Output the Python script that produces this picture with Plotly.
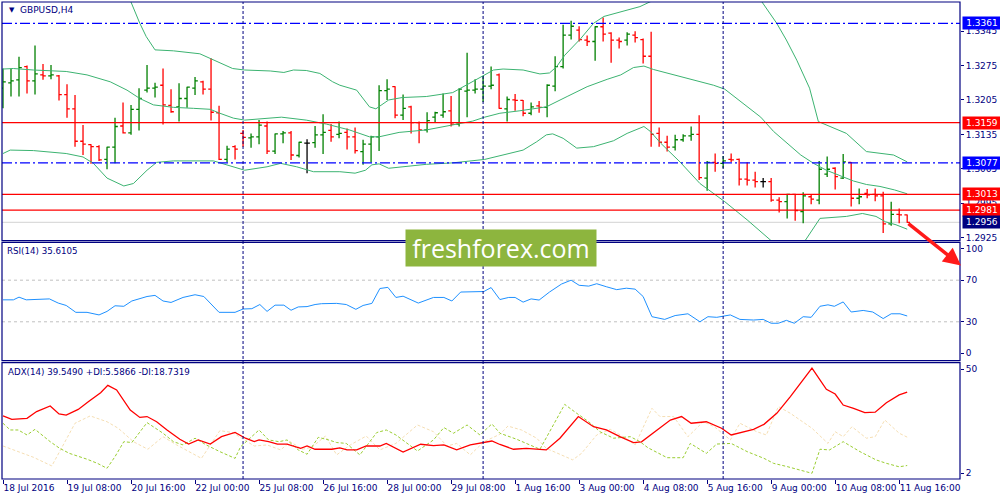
import plotly.graph_objects as go

# ---------------- data ----------------
symbol_title = "GBPUSD,H4"
time_tick_bars = [0, 8, 16, 24, 32, 40, 48, 56, 64, 72, 80, 88, 96, 104, 112]
time_tick_labels = ["18 Jul 2016", "19 Jul 08:00", "20 Jul 16:00", "22 Jul 00:00",
                    "25 Jul 08:00", "26 Jul 16:00", "28 Jul 00:00", "29 Jul 08:00",
                    "1 Aug 16:00", "3 Aug 00:00", "4 Aug 08:00", "5 Aug 16:00",
                    "9 Aug 00:00", "10 Aug 08:00", "11 Aug 16:00"]
week_separators = [30, 60, 90]

open_ = [1.3229, 1.3240, 1.3246, 1.3273, 1.3244, 1.3256, 1.3254, 1.3254, 1.3216, 1.3187,
         1.3121, 1.3114, 1.3110, 1.3084, 1.3109, 1.3152, 1.3138, 1.3186, 1.3225, 1.3229,
         1.3235, 1.3194, 1.3191, 1.3208, 1.3229, 1.3242, 1.3227, 1.3179, 1.3084, 1.3110,
         1.3137, 1.3128, 1.3130, 1.3152, 1.3101, 1.3136, 1.3138, 1.3092, 1.3117, 1.3118,
         1.3134, 1.3143, 1.3135, 1.3139, 1.3130, 1.3100, 1.3115, 1.3130, 1.3224, 1.3232,
         1.3174, 1.3191, 1.3159, 1.3144, 1.3170, 1.3174, 1.3183, 1.3156, 1.3223, 1.3225,
         1.3227, 1.3233, 1.3256, 1.3187, 1.3205, 1.3204, 1.3178, 1.3193, 1.3190, 1.3233,
         1.3273, 1.3337, 1.3347, 1.3327, 1.3324, 1.3354, 1.3341, 1.3327, 1.3327, 1.3337,
         1.3328, 1.3294, 1.3137, 1.3119, 1.3109, 1.3124, 1.3132, 1.3135, 1.3046, 1.3078,
         1.3076, 1.3084, 1.3084, 1.3044, 1.3042, 1.3039, 1.3039, 1.3001, 1.2998, 1.3013,
         1.2978, 1.3008, 1.3001, 1.3054, 1.3066, 1.3046, 1.3078, 1.3005, 1.3015, 1.3013,
         1.3010, 1.2953, 1.2972, 1.2971]
high_ = [1.3269, 1.3269, 1.3293, 1.3275, 1.3316, 1.3278, 1.3276, 1.3256, 1.3237, 1.3215,
         1.3154, 1.3115, 1.3113, 1.3110, 1.3169, 1.3200, 1.3195, 1.3229, 1.3276, 1.3240,
         1.3269, 1.3227, 1.3239, 1.3232, 1.3252, 1.3244, 1.3290, 1.3193, 1.3112, 1.3113,
         1.3144, 1.3137, 1.3164, 1.3161, 1.3137, 1.3142, 1.3142, 1.3120, 1.3125, 1.3152,
         1.3176, 1.3156, 1.3161, 1.3147, 1.3149, 1.3124, 1.3132, 1.3235, 1.3247, 1.3233,
         1.3216, 1.3193, 1.3161, 1.3180, 1.3181, 1.3218, 1.3213, 1.3229, 1.3301, 1.3247,
         1.3254, 1.3273, 1.3259, 1.3212, 1.3217, 1.3205, 1.3200, 1.3203, 1.3237, 1.3294,
         1.3358, 1.3366, 1.3355, 1.3336, 1.3355, 1.3373, 1.3343, 1.3332, 1.3343, 1.3345,
         1.3330, 1.3344, 1.3149, 1.3132, 1.3134, 1.3135, 1.3151, 1.3174, 1.3081, 1.3096,
         1.3091, 1.3096, 1.3086, 1.3078, 1.3059, 1.3046, 1.3046, 1.3007, 1.3014, 1.3014,
         1.3017, 1.3012, 1.3081, 1.3090, 1.3068, 1.3095, 1.3079, 1.3025, 1.3024, 1.3025,
         1.3018, 1.2998, 1.2984, 1.2972]
low_ = [1.3188, 1.3212, 1.3212, 1.3218, 1.3216, 1.3246, 1.3247, 1.3204, 1.3169, 1.3110,
        1.3093, 1.3075, 1.3081, 1.3064, 1.3076, 1.3137, 1.3134, 1.3143, 1.3220, 1.3210,
        1.3155, 1.3179, 1.3161, 1.3189, 1.3215, 1.3216, 1.3163, 1.3083, 1.3078, 1.3084,
        1.3110, 1.3108, 1.3115, 1.3095, 1.3095, 1.3117, 1.3083, 1.3088, 1.3056, 1.3108,
        1.3095, 1.3120, 1.3127, 1.3104, 1.3096, 1.3073, 1.3078, 1.3101, 1.3205, 1.3168,
        1.3164, 1.3137, 1.3117, 1.3139, 1.3158, 1.3169, 1.3151, 1.3151, 1.3170, 1.3218,
        1.3201, 1.3227, 1.3187, 1.3161, 1.3183, 1.3172, 1.3174, 1.3179, 1.3170, 1.3223,
        1.3269, 1.3328, 1.3324, 1.3315, 1.3285, 1.3324, 1.3281, 1.3310, 1.3316, 1.3322,
        1.3279, 1.3110, 1.3110, 1.3100, 1.3102, 1.3120, 1.3122, 1.3042, 1.3020, 1.3059,
        1.3066, 1.3079, 1.3031, 1.3031, 1.3027, 1.3027, 1.2998, 1.2976, 1.2964, 1.2959,
        1.2954, 1.2993, 1.2993, 1.3048, 1.3023, 1.3044, 1.2988, 1.2993, 1.3005, 1.2999,
        1.2934, 1.2949, 1.2954, 1.2955]
close_ = [1.3242, 1.3244, 1.3271, 1.3244, 1.3258, 1.3254, 1.3256, 1.3216, 1.3187, 1.3121,
          1.3115, 1.3110, 1.3083, 1.3109, 1.3151, 1.3138, 1.3186, 1.3208, 1.3229, 1.3231,
          1.3195, 1.3181, 1.3208, 1.3231, 1.3244, 1.3227, 1.3180, 1.3084, 1.3105, 1.3105,
          1.3129, 1.3130, 1.3154, 1.3101, 1.3136, 1.3138, 1.3093, 1.3119, 1.3117, 1.3134,
          1.3139, 1.3130, 1.3137, 1.3130, 1.3102, 1.3115, 1.3130, 1.3224, 1.3227, 1.3174,
          1.3188, 1.3159, 1.3144, 1.3163, 1.3179, 1.3181, 1.3156, 1.3227, 1.3225, 1.3227,
          1.3233, 1.3235, 1.3188, 1.3206, 1.3204, 1.3178, 1.3191, 1.3190, 1.3235, 1.3273,
          1.3337, 1.3355, 1.3328, 1.3324, 1.3354, 1.3339, 1.3327, 1.3324, 1.3339, 1.3332,
          1.3294, 1.3135, 1.3119, 1.3109, 1.3124, 1.3132, 1.3135, 1.3047, 1.3078, 1.3076,
          1.3081, 1.3083, 1.3044, 1.3042, 1.3039, 1.3039, 1.3001, 1.2998, 1.3013, 1.2980,
          1.3010, 1.3003, 1.3064, 1.3064, 1.3049, 1.3079, 1.3005, 1.3008, 1.3012, 1.3010,
          1.2953, 1.2972, 1.2971, 1.2956]

bb_upper_x = [0, 8, 13, 15.9, 17.1, 17.9, 19, 21.3, 24.6, 26.1, 28.7, 30.2, 33.4, 35.1, 36.3,
              37.9, 39.6, 41.2, 42.1, 44.2, 45.2, 45.8, 46.6, 48.2, 49.9, 52.9, 56.2, 59.6,
              61.3, 62.5, 65, 67.1, 68.3, 69.2, 70.2, 72.2, 73.8, 75.1, 77.2, 79.6, 80.9,
              84.4, 88.4, 91.5, 94.7, 96.7, 97.9, 99.2, 100.8, 101.9, 105.4, 107.9, 111.3, 113]
bb_upper_y = [1.3440, 1.3429, 1.3419, 1.3408, 1.3361, 1.3334, 1.3307, 1.3305, 1.3299, 1.3288,
              1.3269, 1.3266, 1.3264, 1.3261, 1.3266, 1.3265, 1.3259, 1.3242, 1.3235, 1.3225,
              1.3205, 1.3191, 1.3187, 1.3205, 1.3210, 1.3212, 1.3220, 1.3251, 1.3266, 1.3268,
              1.3266, 1.3258, 1.3260, 1.3273, 1.3296, 1.3330, 1.3361, 1.3375, 1.3385, 1.3395,
              1.3405, 1.3425, 1.3432, 1.3429, 1.3408, 1.3361, 1.3327, 1.3286, 1.3229, 1.3161,
              1.3137, 1.3100, 1.3093, 1.3079]
bb_mid_x = [0, 1.3, 3.8, 7.9, 10.5, 13.4, 15.5, 17.1, 18.8, 21.3, 23.8, 25.9, 27.1, 28.8, 30.2,
            34.8, 37.9, 40.4, 43.3, 45.8, 47, 49.5, 52.9, 56.2, 58.7, 60.2, 62.1, 64.6, 67.9,
            70.5, 73, 75.5, 77.2, 78.8, 80.1, 81.3, 83.8, 86.3, 88.8, 90.2, 93, 94.7, 96.3,
            98, 99.7, 101.3, 102.9, 104.6, 106.3, 107.9, 109.6, 111.4, 113]
bb_mid_y = [1.3268, 1.3269, 1.3266, 1.3263, 1.3256, 1.3242, 1.3225, 1.3208, 1.3195, 1.3190,
            1.3188, 1.3186, 1.3178, 1.3168, 1.3164, 1.3170, 1.3164, 1.3156, 1.3144, 1.3130,
            1.3130, 1.3139, 1.3144, 1.3154, 1.3162, 1.3170, 1.3178, 1.3183, 1.3191, 1.3212,
            1.3232, 1.3247, 1.3256, 1.3271, 1.3274, 1.3267, 1.3256, 1.3246, 1.3235, 1.3227,
            1.3191, 1.3170, 1.3141, 1.3117, 1.3093, 1.3076, 1.3062, 1.3051, 1.3040, 1.3033,
            1.3029, 1.3022, 1.3014]
bb_lower_x = [0, 0.9, 3.8, 7.9, 10, 11.3, 13, 15.1, 16.3, 18, 19.2, 21.3, 26.3, 27.9, 30.2,
              33, 34.7, 36.7, 38.8, 42.1, 44, 45.3, 46.1, 47, 48.2, 52.9, 56.2, 60.2, 62.1,
              65, 66.7, 67.9, 68.7, 70, 71.7, 73.8, 76.3, 78, 80.1, 80.9, 82.2, 84.6, 87.1,
              90.2, 93, 95.9, 98, 100.3, 102.1, 105.4, 107.4, 109.1, 110.3, 111.6, 113]
bb_lower_y = [1.3096, 1.3103, 1.3102, 1.3096, 1.3089, 1.3076, 1.3046, 1.3030, 1.3035, 1.3062,
              1.3078, 1.3081, 1.3081, 1.3073, 1.3062, 1.3069, 1.3076, 1.3069, 1.3059, 1.3059,
              1.3056, 1.3062, 1.3073, 1.3075, 1.3066, 1.3074, 1.3077, 1.3084, 1.3091, 1.3103,
              1.3120, 1.3134, 1.3136, 1.3127, 1.3107, 1.3110, 1.3122, 1.3137, 1.3151, 1.3141,
              1.3117, 1.3079, 1.3035, 1.2998, 1.2961, 1.2920, 1.2903, 1.2920, 1.2964, 1.2968,
              1.2974, 1.2968, 1.2957, 1.2951, 1.2942]

rsi_x = [0, 1.3, 2, 2.9, 5.8, 6.9, 7.9, 9.1, 10.5, 12, 13, 14, 15.1, 16.1, 18, 19, 20, 21,
         22.5, 24, 25.1, 27, 29, 30, 31.1, 32.1, 33, 34, 35.1, 36, 36.9, 38, 39, 39.8, 41.7,
         42.9, 44.1, 45, 46.1, 47.1, 48.1, 49.1, 50, 51.9, 53.8, 55.1, 56.1, 57.2, 60.1, 61,
         62.1, 63.2, 64, 65, 66, 67, 68.3, 69.8, 71, 72, 73.2, 74.2, 75.4, 76.7, 77.9, 79, 80,
         81.1, 82.7, 84, 85.6, 87.1, 88.1, 89.2, 90.9, 92.1, 93.8, 95, 96, 96.9, 97.9, 98.9,
         100, 101, 102.1, 103.1, 103.9, 105, 106, 107.5, 108.7, 110, 111, 112.1, 113]
rsi_y = [51.1, 51.1, 53.7, 51.1, 52, 48, 45.7, 39.1, 39.1, 36.6, 40, 45.4, 44.9, 50, 54.3,
         55.4, 50, 48.6, 53.4, 56, 54.3, 39.1, 39.1, 42.3, 42.6, 46.6, 40, 46, 46, 41.1, 44.3,
         44.6, 46.6, 47.4, 47.7, 46.6, 42, 45.7, 47.7, 62, 63.1, 53.4, 54.6, 48, 53.4, 53.4,
         50, 58.6, 59.1, 62.9, 51.4, 53.4, 53.4, 48.9, 52, 50.9, 58.6, 66.3, 70, 65.1, 64.3,
         66.6, 63.7, 60.9, 62.3, 61.4, 54.3, 34.9, 32.3, 36, 37.7, 30, 34.9, 34.3, 36.6, 32.3,
         31.7, 32.3, 28.6, 28.6, 31.4, 28.6, 34.9, 34.3, 44.9, 46.3, 44.9, 49.1, 39.4, 40.9,
         39.4, 33.1, 37.7, 37.7, 35.6]

adx_x = [0, 1.1, 3, 4.2, 5.9, 7, 7.9, 9.4, 10.7, 12.2, 13.1, 14.2, 15.9, 17.1, 18, 19.2, 20.5,
         22.1, 23.2, 24.4, 25.9, 27.3, 29, 30.3, 31.4, 32, 33.2, 34.3, 35.5, 37.2, 38, 39,
         41.1, 42.1, 43, 44.2, 45.4, 47.1, 47.9, 50, 52.2, 53.8, 55.1, 56.7, 58.4, 59.8, 61.1,
         62.1, 63.8, 65.4, 67.9, 69.6, 71.9, 73.8, 75.4, 77.1, 78.8, 79.8, 81.7, 83.4, 84.8,
         86, 87.9, 89.8, 91, 93.8, 95.1, 96.7, 98.4, 101.1, 102.9, 104, 105, 106.3, 107.7,
         109, 110.4, 112, 113]
adx_y = [28.5, 26.9, 27.4, 30.5, 33.1, 29.4, 28.9, 31.5, 35.1, 39.2, 42.6, 40.5, 31.2, 27.8,
         28.2, 25.8, 22, 17.7, 15.5, 17.4, 15.5, 18.9, 20.9, 18.2, 16.6, 17.4, 16.6, 15.5,
         15.5, 13.5, 14.6, 13.1, 13.1, 13.7, 12.8, 12.8, 14.6, 14.6, 15.8, 11.8, 15.4, 14.8,
         15.1, 12.8, 15.1, 16.2, 16.9, 15.3, 13.1, 13.5, 12.8, 18.2, 28.2, 23.5, 22, 18.9,
         16.2, 16.5, 22, 26.6, 28.2, 25.1, 25.8, 22.8, 19.7, 22.3, 24.6, 29.7, 37.4, 50.5,
         40.8, 38.6, 33.5, 32, 30, 30.2, 34.6, 38.2, 39.5]
pdi_x = [0, 0.9, 1.9, 3, 4, 5.9, 7.1, 8.3, 10.5, 11.8, 13, 14, 15.1, 16.1, 18, 20, 21.3, 22.5,
         24, 25.4, 27.1, 29, 29.7, 32, 33.2, 34.5, 35.5, 36.9, 38, 39.4, 40.7, 41.7, 42.9,
         44.6, 46.7, 47.9, 49.1, 51.8, 53.8, 55.1, 56.3, 58, 59.6, 61.1, 62.1, 64.2, 67.1,
         68.1, 70.2, 71.7, 73.2, 74.6, 76.3, 78.4, 79.6, 80.6, 83, 85, 85.9, 87.9, 89.2, 91,
         93, 95.1, 96.3, 98, 99.6, 101.1, 102.1, 103.3, 105, 107.1, 109.1, 110.4, 112, 113]
pdi_y = [25.1, 22, 22, 19.7, 22.3, 16.6, 13.5, 11.2, 8.5, 6.6, 4.3, 9.7, 16.6, 16.2, 25.4,
         20.5, 16.6, 15.1, 18.2, 15.1, 12, 8.9, 14.3, 22, 17.4, 16.6, 17.4, 12.8, 10.8, 18.6,
         17.4, 16.2, 15.8, 10.5, 20.8, 22, 19.7, 12.3, 17.4, 23.1, 20.5, 24.3, 19.7, 24.8,
         20.5, 17.7, 13.1, 19.7, 33.8, 29.7, 25.8, 21.2, 18.2, 18.9, 16.6, 13.8, 9.2, 9.2,
         15.8, 11.2, 15.5, 15.8, 12, 8.9, 6.6, 5.1, 3.5, 2, 13.1, 12.8, 16.6, 12, 8.2, 6.6,
         5.0, 5.6]
mdi_x = [0, 1.8, 3.8, 6.1, 7.3, 9, 10.9, 13, 14.4, 16.3, 18.1, 20, 21.7, 23.6, 24.8, 27.1,
         28.7, 31.4, 33, 34.7, 35.9, 37.4, 38.6, 40.3, 41.7, 43.4, 45.4, 47.1, 49.1, 51.8,
         53.8, 55.5, 56.7, 58.4, 60.1, 62.1, 63.1, 64.8, 66.7, 67.9, 69.4, 71.2, 72.3, 74.2,
         75.9, 77.5, 79, 81.1, 82.1, 83.8, 85.6, 87.5, 88.9, 90.9, 92.1, 94.2, 95.4, 96.9,
         98.4, 101.1, 103.1, 104, 105, 106.1, 107.9, 109, 110.2, 112, 113]
mdi_y = [14.6, 12, 9.4, 5.4, 13.5, 25.1, 28.5, 25.8, 22.8, 16.6, 13.1, 18.9, 15.1, 11.2, 8.9,
         21.7, 20.8, 14.6, 15.1, 12.8, 16.6, 13.1, 14, 19.2, 10.5, 15.1, 19.2, 12.8, 15.8,
         24.3, 21.2, 14.6, 15.8, 10.5, 16.6, 20, 23.8, 22, 18.2, 13.5, 11.2, 8.2, 11.2, 19.7,
         22.3, 18.9, 15.1, 32, 28.2, 28.2, 18.9, 25.8, 23.5, 17.4, 25.1, 21.2, 19.7, 32.8,
         29.7, 22.8, 15.8, 21.2, 18.9, 23.5, 18.2, 18.9, 26.6, 20.5, 18.7]

price_ticks = [1.2925, 1.2995, 1.3065, 1.3135, 1.3205, 1.3275, 1.3345]
rsi_ticks = [0, 30, 70, 100]
rsi_levels = [30, 70]
adx_ticks = [2, 50]
red_levels = [1.3159, 1.3013, 1.2981]
blue_levels = [1.3361, 1.3077]
bid_price = 1.2956
rsi_label = "RSI(14) 35.6105"
adx_label = "ADX(14) 39.5490 +DI:5.5866 -DI:18.7319"
watermark = "freshforex.com"

# ---------------- style ----------------
NAVY = "#000080"
FONT = "DejaVu Sans"
BAND = "#3CB371"
PRICE_DOM = [0.4996, 1.0]
RSI_DOM = [0.248, 0.4962]
ADX_DOM = [0.0, 0.2438]

fig = go.Figure()

for bx, by in [(bb_upper_x, bb_upper_y), (bb_mid_x, bb_mid_y), (bb_lower_x, bb_lower_y)]:
    fig.add_trace(go.Scatter(x=bx, y=by, mode="lines", xaxis="x", yaxis="y",
                             line=dict(color=BAND, width=1), hoverinfo="skip"))

bars = list(range(len(close_)))
reg = [i for i in bars if open_[i] != close_[i]]
doji = [i for i in bars if open_[i] == close_[i]]

fig.add_trace(go.Ohlc(x=reg, open=[open_[i] for i in reg], high=[high_[i] for i in reg],
                      low=[low_[i] for i in reg], close=[close_[i] for i in reg],
                      xaxis="x", yaxis="y", tickwidth=0.35,
                      increasing=dict(line=dict(color="#008000", width=1.3)),
                      decreasing=dict(line=dict(color="#FF0000", width=1.3))))
fig.add_trace(go.Ohlc(x=doji, open=[open_[i] for i in doji], high=[high_[i] for i in doji],
                      low=[low_[i] for i in doji], close=[close_[i] for i in doji],
                      xaxis="x", yaxis="y", tickwidth=0.35,
                      increasing=dict(line=dict(color="#000000", width=1.3)),
                      decreasing=dict(line=dict(color="#000000", width=1.3))))

fig.add_trace(go.Scatter(x=rsi_x, y=rsi_y, mode="lines", xaxis="x", yaxis="y2",
                         line=dict(color="#1E90FF", width=1), hoverinfo="skip"))

fig.add_trace(go.Scatter(x=mdi_x, y=mdi_y, mode="lines", xaxis="x", yaxis="y3",
                         line=dict(color="#F5DEB3", width=1, dash="3px,2px"), hoverinfo="skip"))
fig.add_trace(go.Scatter(x=pdi_x, y=pdi_y, mode="lines", xaxis="x", yaxis="y3",
                         line=dict(color="#9ACD32", width=1, dash="3px,2px"), hoverinfo="skip"))
fig.add_trace(go.Scatter(x=adx_x, y=adx_y, mode="lines", xaxis="x", yaxis="y3",
                         line=dict(color="#FF0000", width=1.3), hoverinfo="skip"))

shapes = []
for lv in rsi_levels:
    shapes.append(dict(type="line", xref="paper", x0=0, x1=1, yref="y2", y0=lv, y1=lv,
                       line=dict(color="#C0C0C0", width=1, dash="3px,3px"), layer="below"))
shapes.append(dict(type="line", xref="paper", x0=0, x1=1, yref="y", y0=bid_price, y1=bid_price,
                   line=dict(color="#D3D3D3", width=1), layer="below"))
for lv in red_levels:
    shapes.append(dict(type="line", xref="paper", x0=0, x1=1, yref="y", y0=lv, y1=lv,
                       line=dict(color="#FF0000", width=1.3)))
for lv in blue_levels:
    shapes.append(dict(type="line", xref="paper", x0=0, x1=1, yref="y", y0=lv, y1=lv,
                       line=dict(color="#0000FF", width=1.3, dash="10px,3px,2px,3px")))
for wb in week_separators:
    shapes.append(dict(type="line", xref="x", x0=wb, x1=wb, yref="paper", y0=0, y1=1,
                       line=dict(color=NAVY, width=1, dash="3px,2px")))
for dom in [PRICE_DOM, RSI_DOM, ADX_DOM]:
    shapes.append(dict(type="rect", xref="paper", x0=0, x1=1, yref="paper", y0=dom[0], y1=dom[1],
                       line=dict(color=NAVY, width=1.2), fillcolor="rgba(0,0,0,0)"))

annotations = []
box_levels = [(1.3361, "#0000FF"), (1.3159, "#FF0000"), (1.3077, "#0000FF"),
              (1.3013, "#FF0000"), (1.2981, "#FF0000"), (bid_price, NAVY)]
for lv, col in box_levels:
    annotations.append(dict(xref="paper", x=1, xanchor="left", xshift=2, yref="y", y=lv,
                            yanchor="middle", text=f"{lv:.4f}", showarrow=False,
                            bgcolor=col, borderpad=1, width=36,
                            font=dict(family=FONT, size=9, color="white")))
annotations.append(dict(xref="paper", yref="paper", x=0.0055, y=0.9832, xanchor="left",
                        yanchor="middle", text="▼", showarrow=False,
                        font=dict(family=FONT, size=7, color=NAVY)))
annotations.append(dict(xref="paper", yref="paper", x=0.0167, y=0.9832, xanchor="left",
                        yanchor="middle", text=symbol_title, showarrow=False,
                        font=dict(family=FONT, size=9, color=NAVY)))
annotations.append(dict(xref="paper", yref="paper", x=0.003, y=0.478, xanchor="left",
                        yanchor="middle", text=rsi_label, showarrow=False,
                        font=dict(family=FONT, size=8.7, color=NAVY)))
annotations.append(dict(xref="paper", yref="paper", x=0.004, y=0.2243, xanchor="left",
                        yanchor="middle", text=adx_label, showarrow=False,
                        font=dict(family=FONT, size=8.7, color=NAVY)))
annotations.append(dict(xref="paper", yref="paper", x=0.5204, y=0.4843, xanchor="center",
                        yanchor="middle", text=watermark, showarrow=False,
                        bgcolor="#8DB53E", width=186, height=32, borderpad=2,
                        font=dict(family="Open Sans", size=25, color="white")))
annotations.append(dict(xref="paper", yref="paper", x=1.001, y=0.4476, text="",
                        showarrow=True, arrowhead=2, arrowsize=1, arrowwidth=3.5,
                        arrowcolor="#FF1A1A", ax=-54, ay=-43))

axis_common = dict(showgrid=False, zeroline=False, showline=False, ticks="outside",
                   tickcolor=NAVY, automargin=False, fixedrange=True,
                   tickfont=dict(family=FONT, size=9, color=NAVY))

fig.update_layout(
    template="none",
    width=1000, height=500,
    margin=dict(l=2, r=40, t=2, b=21),
    paper_bgcolor="white", plot_bgcolor="white",
    showlegend=False, hovermode=False,
    font=dict(family=FONT, size=9, color=NAVY),
    xaxis=dict(domain=[0, 1], anchor="y3", range=[-0.125, 119.6],
               tickvals=time_tick_bars, ticktext=time_tick_labels, ticklen=4, tickangle=0,
               ticklabelposition="outside right", rangeslider=dict(visible=False),
               **axis_common),
    yaxis=dict(domain=PRICE_DOM, anchor="x", side="right", range=[1.29186, 1.34044],
               tickvals=price_ticks, tickformat=".4f", ticklen=3, **axis_common),
    yaxis2=dict(domain=RSI_DOM, anchor="x", side="right", range=[-7.4, 106.4],
                tickvals=rsi_ticks, ticklen=3, **axis_common),
    yaxis3=dict(domain=ADX_DOM, anchor="x", side="right", range=[-0.63, 53.05],
                tickvals=adx_ticks, ticklen=3, **axis_common),
    shapes=shapes,
    annotations=annotations,
)

fig.write_html("out.html", config={"displayModeBar": False, "staticPlot": True},
               post_script="document.body.style.margin='0';document.body.style.overflow='hidden';")
